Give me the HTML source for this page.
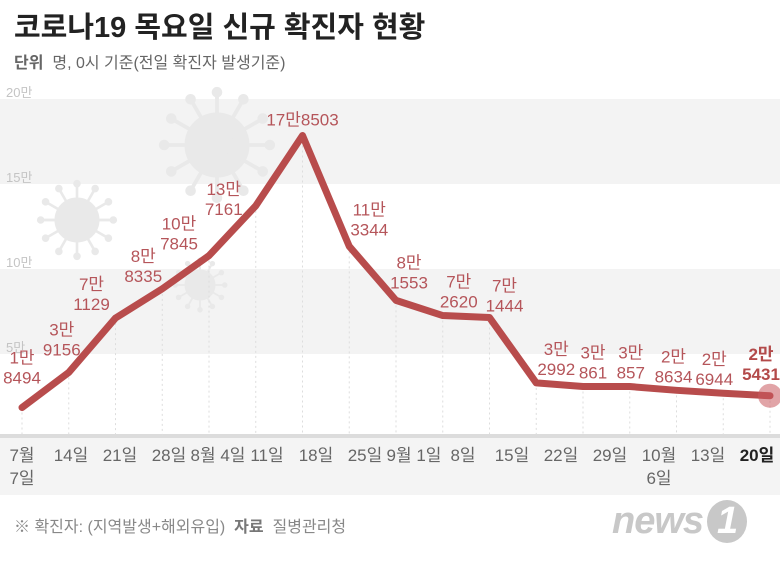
<!DOCTYPE html>
<html><head><meta charset="utf-8"><style>
body{margin:0;width:780px;height:561px;overflow:hidden;background:#fff;font-family:"Liberation Sans","Noto Sans CJK KR",sans-serif;}
#wrap{position:relative;width:780px;height:561px;}
.t{position:absolute;white-space:nowrap;}
</style></head><body><div id="wrap">
<div class="t" style="left:14px;top:4px;font-size:29px;font-weight:bold;color:#222;">코로나19 목요일 신규 확진자 현황</div>
<div class="t" style="left:14px;top:49px;font-size:16px;color:#666;"><b>단위</b>&nbsp; 명, 0시 기준(전일 확진자 발생기준)</div>
<svg id="c" width="780" height="561" style="position:absolute;left:0;top:0"></svg>
<div class="t" style="left:14px;top:513px;font-size:16px;color:#888;">※ 확진자: (지역발생+해외유입)&nbsp; <b style="color:#777">자료</b>&nbsp; 질병관리청</div>
<div class="t" style="left:612px;top:500px;font-size:38px;font-style:italic;font-weight:bold;color:#c8c8c8;letter-spacing:-1px;">news<span style="display:inline-block;background:#c8c8c8;color:#fff;border-radius:50%;width:40px;text-align:center;margin-left:4px;">1</span></div>
</div>
<script>
const yTicks=[0,50000,100000,150000,200000];
const yTickLabels=['','5만','10만','15만','20만'];
const values=[18494,39156,71129,88335,107845,137161,178503,113344,81553,72620,71444,32992,30861,30857,28634,26944,25431];
const valueTop=['1만','3만','7만','8만','10만','13만','17만','11만','8만','7만','7만','3만','3만','3만','2만','2만','2만'];
const valueBottom=['8494','9156','1129','8335','7845','7161','8503','3344','1553','2620','1444','2992','861','857','8634','6944','5431'];
const dateLabels=['7월|7일','14일','21일','28일','8월 4일','11일','18일','25일','9월 1일','8일','15일','22일','29일','10월|6일','13일','20일'];
const NS='http://www.w3.org/2000/svg';
const svg=document.getElementById('c');
const y=v=>439-v*(340/200000);
const x=i=>22+i*(748/(values.length-1));
const xl=i=>22+i*(735/(dateLabels.length-1));
// label layout nudges (presentation only)
const labelDx=[0,-7,-24,-19,-30,-32,0,20,13,16,15,20,10,1,-3,-9,0];
const labelDy=[-24,-17,-8,-7,-6,9,-10,-11,-12,-8,-6,-8,-8,-8,-8,-8,-16];
function mk(t,a,p){const e=document.createElementNS(NS,t);for(const k in a)e.setAttribute(k,a[k]);(p||svg).appendChild(e);return e;}
for(let i=0;i<yTicks.length-1;i++){
 const b=mk('rect',{x:0,y:y(yTicks[i+1]),width:780,height:y(yTicks[i])-y(yTicks[i+1]),fill:i%2==1?'#f3f3f3':'#fff'});
 
 
}
const bot=mk('rect',{x:0,y:436,width:780,height:59,fill:'#f4f4f4'});


mk('rect',{x:0,y:434,width:780,height:4,fill:'#dcdcdc'});
function virus(cx,cy,r){const g=mk('g',{fill:'#e9e9e9',stroke:'#e9e9e9'});
 
 
 mk('circle',{cx,cy,r},g);
 for(let k=0;k<12;k++){const a=k*Math.PI/6;mk('line',{x1:cx,y1:cy,x2:cx+Math.cos(a)*r*1.6,y2:cy+Math.sin(a)*r*1.6,'stroke-width':r*0.12},g);mk('circle',{cx:cx+Math.cos(a)*r*1.65,cy:cy+Math.sin(a)*r*1.65,r:r*0.15},g);}}
virus(217,145,32);virus(77,220,22);virus(200,285,15);
for(let i=1;i<yTicks.length;i++){
 const t=mk('text',{x:6,y:y(yTicks[i])-2,'font-size':13,fill:'#c4c4c4'});t.textContent=yTickLabels[i];
 
 
}
values.forEach((v,i)=>{mk('line',{x1:x(i),y1:y(v),x2:x(i),y2:436,stroke:'#ddd','stroke-dasharray':'2,3'});});
const pl=mk('polyline',{points:values.map((v,i)=>x(i)+','+y(v)).join(' '),fill:'none',stroke:'#b84c4c','stroke-width':7,'stroke-linejoin':'round','stroke-linecap':'round'});


const last=values.length-1;
const peak=values.indexOf(Math.max(...values));
const dot=mk('circle',{cx:x(last),cy:y(values[last]),r:12,fill:'rgba(200,90,95,0.55)'});


values.forEach((v,i)=>{
 const cx=Math.min(Math.max(x(i)+(labelDx[i]||0),22),761);
 const bold=i==last;
 const g=mk('text',{'text-anchor':'middle','font-size':17,fill:bold?'#b34a4a':'#b5555a','font-weight':bold?'bold':'normal'});
 
 
 const off=labelDy[i]||-10;
 if(i==peak){g.setAttribute('x',cx);g.setAttribute('y',y(v)+off);g.textContent=valueTop[i]+valueBottom[i];return;}
 const a=mk('tspan',{x:cx,y:y(v)+off-20},g);a.textContent=valueTop[i];
 const b=mk('tspan',{x:cx,y:y(v)+off},g);b.textContent=valueBottom[i];
});
dateLabels.forEach((d,i)=>{
 const parts=d.split('|');
 const t=mk('text',{'text-anchor':'middle','font-size':17,fill:i==dateLabels.length-1?'#222':'#666','font-weight':i==dateLabels.length-1?'bold':'normal'});
 
 
 parts.forEach((p,j)=>{const s=mk('tspan',{x:xl(i),y:461+j*23},t);s.textContent=p;});
});
</script></body></html>
